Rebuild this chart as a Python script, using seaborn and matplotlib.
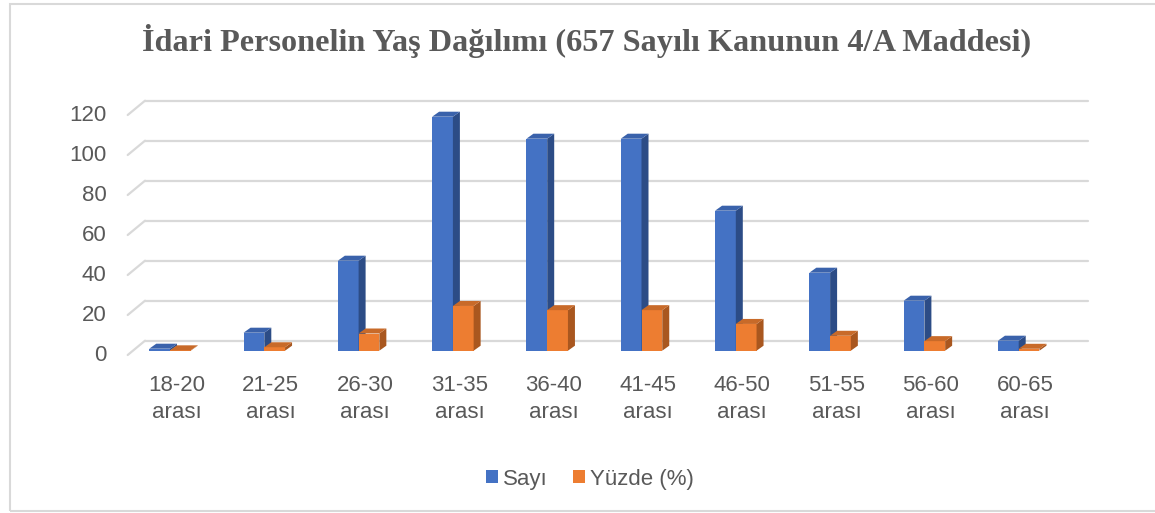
import pandas as pd
import numpy as np
import matplotlib.pyplot as plt
import seaborn as sns
from matplotlib.transforms import ScaledTranslation, IdentityTransform
from matplotlib.patches import Polygon, Rectangle
from matplotlib.lines import Line2D

groups = ["18-20", "21-25", "26-30", "31-35", "36-40", "41-45", "46-50", "51-55", "56-60", "60-65"]
sayi = [1, 9, 45, 117, 106, 106, 70, 39, 25, 5]
yuzde = [0.19, 1.72, 8.60, 22.37, 20.27, 20.27, 13.38, 7.46, 4.78, 0.96]
series = ["Sayı", "Yüzde (%)"]
yticks = [0, 20, 40, 60, 80, 100, 120]
title = "İdari Personelin Yaş Dağılımı (657 Sayılı Kanunun 4/A Maddesi)"

df = pd.DataFrame({"grup": groups * 2,
                   "seri": [series[0]] * len(groups) + [series[1]] * len(groups),
                   "deger": sayi + yuzde})

sns.set_style("white")
plt.rcParams['font.family'] = ['Liberation Sans', 'DejaVu Sans']
txt = "#595959"
grid = "#d9d9d9"
front = ["#4472C4", "#ED7D31"]
side = ["#2C4C86", "#A9571F"]
top = ["#3A62AB", "#C86A29"]

W, H = 1155, 513
fig = plt.figure(figsize=(W / 100, H / 100), dpi=100)
ax = fig.add_axes([122.85 / W, (H - 350.7) / H, 943 / W, 240 / H])
sns.barplot(data=df, x="grup", y="deger", hue="seri", palette=front, width=0.44,
            saturation=1, errorbar=None, legend=False, ax=ax)
ax.set_xlim(-0.5, len(groups) - 0.5)
ax.set_ylim(0, 120)
ax.axis('off')

def off(dx, dy):
    return ax.transData + ScaledTranslation(dx / 100, dy / 100, fig.dpi_scale_trans)

# back wall gridlines + side wall slants
for v in yticks:
    ax.plot([-0.5, len(groups) - 0.5], [v, v], transform=off(22.15, 10), color=grid,
            lw=1.6, clip_on=False, zorder=0.5)
    px, py = ax.transData.transform((-0.5, v))
    fig.add_artist(Line2D([px + 4.85, px + 22.15], [py - 4.3, py + 10], transform=IdentityTransform(),
                          color=grid, lw=1.6, zorder=0.5))
    ax.text(-0.5, v, str(v), transform=off(-16.15, -5), ha="right", va="center",
            fontsize=16, color=txt)

# 3d faces for the bars
ddx = 7 / (ax.bbox.width / len(groups))
ddy = 5 / (ax.bbox.height / 120)
for k, cont in enumerate(ax.containers):
    for bar in cont:
        bar.set_zorder(2 + k)
        bar.set_linewidth(0)
        x0, w, h = bar.get_x(), bar.get_width(), bar.get_height()
        ax.add_patch(Polygon([(x0 + w, 0), (x0 + w + ddx, ddy), (x0 + w + ddx, h + ddy), (x0 + w, h)],
                             closed=True, fc=side[k], ec="none", zorder=2.1 + k, clip_on=False))
        ax.add_patch(Polygon([(x0, h), (x0 + ddx, h + ddy), (x0 + w + ddx, h + ddy), (x0 + w, h)],
                             closed=True, fc=top[k], ec="none", zorder=2.1 + k, clip_on=False))

for i, g in enumerate(groups):
    ax.text(i, 0, g + "\narası", transform=off(6.5, -24), ha="center", va="top",
            fontsize=16, color=txt, linespacing=1.42)

fig.text(587 / W, 1 - 41 / H, title, ha="center", va="center", fontsize=23.2,
         fontweight="bold", family="Liberation Serif", color=txt)

handles = [Rectangle((0, 0), 1, 1, fc=c, ec="none") for c in front]
fig.legend(handles, series, loc="center", bbox_to_anchor=(590 / W, 1 - 479 / H), ncol=2,
           frameon=False, handlelength=0.55, handleheight=0.55, handletextpad=0.25,
           columnspacing=1.1, fontsize=16, labelcolor=txt)

fig.add_artist(Rectangle((9.5 / W, 2 / H), (1160 - 9.5) / W, (511 - 3.5) / H,
                         transform=fig.transFigure, fill=False, ec=grid, lw=1.5))

plt.savefig("out.png", dpi=100)
